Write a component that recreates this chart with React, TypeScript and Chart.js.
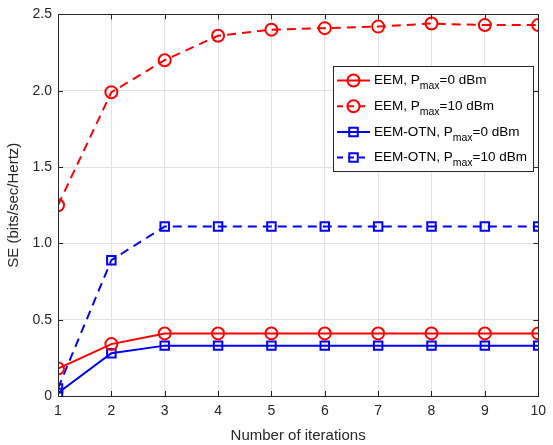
import React, { useEffect, useRef } from 'react';
import { Chart, registerables } from 'chart.js';

Chart.register(...registerables);

const iterations = [1, 2, 3, 4, 5, 6, 7, 8, 9, 10];
const eemP0 = [0.18, 0.34, 0.41, 0.41, 0.41, 0.41, 0.41, 0.41, 0.41, 0.41];
const eemP10 = [1.25, 1.99, 2.2, 2.36, 2.4, 2.41, 2.42, 2.44, 2.43, 2.43];
const otnP0 = [0.02, 0.28, 0.33, 0.33, 0.33, 0.33, 0.33, 0.33, 0.33, 0.33];
const otnP10 = [0.05, 0.89, 1.11, 1.11, 1.11, 1.11, 1.11, 1.11, 1.11, 1.11];
const yTickValues = [0, 0.5, 1.0, 1.5, 2.0, 2.5];
const legendNames = ['EEM, P', 'EEM, P', 'EEM-OTN, P', 'EEM-OTN, P'];
const legendSuffix = ['=0 dBm', '=10 dBm', '=0 dBm', '=10 dBm'];

const RED = '#ff0000';
const BLUE = '#0000ff';
const AXIS = '#262626';
const FONT = '"Liberation Sans", Arial, sans-serif';
const DASH = [9, 6];

type Spec = { values: number[]; color: string; dashed: boolean; marker: 'circle' | 'rect' };
const specs: Spec[] = [
  { values: eemP0, color: RED, dashed: false, marker: 'circle' },
  { values: eemP10, color: RED, dashed: true, marker: 'circle' },
  { values: otnP0, color: BLUE, dashed: false, marker: 'rect' },
  { values: otnP10, color: BLUE, dashed: true, marker: 'rect' },
];

export default function App() {
  const ref = useRef<HTMLCanvasElement>(null);
  useEffect(() => {
    const boxPlugin = {
      id: 'matlabBox',
      beforeDraw(chart: any) {
        const ctx = chart.ctx;
        ctx.save();
        ctx.fillStyle = '#ffffff';
        ctx.fillRect(0, 0, chart.width, chart.height);
        ctx.restore();
      },
      afterDraw(chart: any) {
        const ctx = chart.ctx as CanvasRenderingContext2D;
        const a = chart.chartArea;
        const xs = chart.scales.x;
        const ys = chart.scales.y;
        ctx.save();
        ctx.strokeStyle = AXIS;
        ctx.lineWidth = 1;
        ctx.setLineDash([]);
        ctx.beginPath();
        const L = 5;
        iterations.forEach((v) => {
          const px = Math.round(xs.getPixelForValue(v)) + 0.5;
          ctx.moveTo(px, a.bottom);
          ctx.lineTo(px, a.bottom - L);
          ctx.moveTo(px, a.top);
          ctx.lineTo(px, a.top + L);
        });
        yTickValues.forEach((v) => {
          const py = Math.round(ys.getPixelForValue(v)) + 0.5;
          ctx.moveTo(a.left, py);
          ctx.lineTo(a.left + L, py);
          ctx.moveTo(a.right, py);
          ctx.lineTo(a.right - L, py);
        });
        ctx.stroke();
        ctx.strokeRect(Math.round(a.left) + 0.5, Math.round(a.top) + 0.5, Math.round(a.right - a.left), Math.round(a.bottom - a.top));

        // legend
        const bx = 333.5, by = 66.5, bw = 200, bh = 105;
        ctx.fillStyle = '#ffffff';
        ctx.fillRect(bx, by, bw, bh);
        ctx.strokeStyle = AXIS;
        ctx.strokeRect(bx, by, bw, bh);
        specs.forEach((s, i) => {
          const cy = by + 14 + i * 25.7;
          ctx.strokeStyle = s.color;
          ctx.lineWidth = 2;
          ctx.setLineDash(s.dashed ? [6, 5] : []);
          ctx.beginPath();
          ctx.moveTo(337, cy);
          ctx.lineTo(370, cy);
          ctx.stroke();
          ctx.setLineDash([]);
          ctx.beginPath();
          if (s.marker === 'circle') {
            ctx.arc(353.5, cy, 6, 0, Math.PI * 2);
          } else {
            ctx.rect(353.5 - 4.25, cy - 4.25, 8.5, 8.5);
          }
          ctx.stroke();
          ctx.fillStyle = '#000000';
          ctx.textBaseline = 'middle';
          ctx.textAlign = 'left';
          ctx.font = '13.5px ' + FONT;
          let tx = 374;
          ctx.fillText(legendNames[i], tx, cy);
          tx += ctx.measureText(legendNames[i]).width;
          ctx.font = '10.5px ' + FONT;
          ctx.fillText('max', tx, cy + 6);
          tx += ctx.measureText('max').width;
          ctx.font = '13.5px ' + FONT;
          ctx.fillText(legendSuffix[i], tx, cy);
        });
        ctx.restore();
      },
    };

    const datasets = specs.map((s) => ({
      data: iterations.map((x, i) => ({ x, y: s.values[i] })),
      borderColor: s.color,
      backgroundColor: 'rgba(0,0,0,0)',
      borderWidth: 2,
      borderDash: s.dashed ? DASH : [],
      pointStyle: s.marker,
      pointRadius: 6,
      pointBorderWidth: 2,
      pointBorderColor: s.color,
      pointBackgroundColor: 'rgba(0,0,0,0)',
      tension: 0,
      fill: false,
    }));

    const chart = new Chart(ref.current as HTMLCanvasElement, {
      type: 'line',
      data: { datasets },
      options: {
        animation: false,
        responsive: false,
        devicePixelRatio: 1,
        layout: { padding: { top: 12, right: 9, left: 0, bottom: 0 } },
        plugins: { legend: { display: false }, tooltip: { enabled: false } },
        scales: {
          x: {
            type: 'linear',
            min: 1,
            max: 10,
            afterFit: (s: any) => { s.height = 49; },
            ticks: { stepSize: 1, color: AXIS, font: { family: FONT, size: 14 }, padding: 7, maxRotation: 0 },
            grid: { color: '#e3e3e3', drawTicks: false },
            border: { display: false },
            title: { display: true, text: 'Number of iterations', color: AXIS, font: { family: FONT, size: 15 }, padding: { top: 2, bottom: 0 } },
          },
          y: {
            type: 'linear',
            min: 0,
            max: 2.5,
            afterFit: (s: any) => { s.width = 58; },
            ticks: {
              stepSize: 0.5,
              color: AXIS,
              font: { family: FONT, size: 14 },
              padding: 6,
              callback: (v: any) => (Number(v) === 0 ? '0' : Number(v).toFixed(1)),
            },
            grid: { color: '#e3e3e3', drawTicks: false },
            border: { display: false },
            title: { display: true, text: 'SE (bits/sec/Hertz)', color: AXIS, font: { family: FONT, size: 15 }, padding: { top: 5, bottom: 4 } },
          },
        },
      },
      plugins: [boxPlugin],
    } as any);
    return () => chart.destroy();
  }, []);

  return (
    <div style={{ position: 'fixed', left: 0, top: 0, width: 553, height: 445, background: '#fff' }}>
      <canvas ref={ref} width={553} height={445} style={{ width: 553, height: 445, display: 'block' }} />
    </div>
  );
}
